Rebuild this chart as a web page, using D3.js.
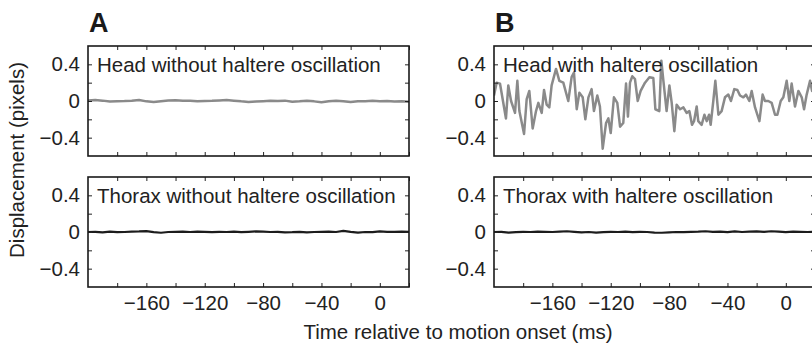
<!DOCTYPE html>
<html>
<head>
<meta charset="utf-8">
<script src="https://cdn.jsdelivr.net/npm/d3@7"></script>
<style>
  html, body { margin: 0; padding: 0; background: #fff; }
  svg { display: block; font-family: "Liberation Sans", Arial, Helvetica, sans-serif; }
</style>
</head>
<body>
<svg id="chart" width="812" height="346"></svg>
<script>
// Time axis (ms relative to motion onset)
const timeDomain = [-200, 20];
const timeTicks = [-180, -160, -140, -120, -100, -80, -60, -40, -20, 0, 20];
const timeLabels = [-160, -120, -80, -40, 0];
// Displacement axis (pixels)
const dispDomain = [-0.6, 0.6];
const dispTicks = [-0.4, -0.2, 0, 0.2, 0.4];
const dispLabels = [-0.4, 0, 0.4];

// Head, no haltere oscillation (time ms, displacement px)
const headNoOscT = [-200, -195, -190, -185, -180, -175, -170, -165, -160, -155, -150, -145, -140, -135, -130, -125, -120, -115, -110, -105, -100, -95, -90, -85, -80, -75, -70, -65, -60, -55, -50, -45, -40, -35, -30, -25, -20, -15, -10, -5, 0, 5, 10, 15, 20];
const headNoOscV = [0.005, 0.01, 0.004, -0.006, -0.002, 0.0, 0.004, 0.012, -0.004, -0.01, -0.002, 0.006, 0.008, 0.002, 0.004, -0.004, 0.0, 0.002, 0.006, 0.01, 0.004, -0.004, -0.01, -0.006, -0.002, 0.002, 0.0, 0.004, -0.008, -0.004, 0.002, -0.004, -0.014, -0.002, 0.002, -0.002, -0.012, -0.004, -0.002, 0.002, -0.004, 0.0, -0.006, -0.004, -0.008];

// Head, with haltere oscillation
const headOscT = [-200.0, -198.2, -195.9, -191.8, -190.2, -188.3, -185.6, -184.0, -182.6, -179.4, -177.6, -175.8, -173.5, -171.2, -169.6, -167.3, -165.7, -163.9, -162.1, -160.5, -157.5, -155.2, -152.5, -149.1, -146.8, -145.2, -143.3, -141.5, -139.2, -137.4, -135.3, -133.1, -131.5, -129.2, -127.4, -125.5, -123.2, -121.6, -120.0, -117.8, -115.5, -113.6, -111.4, -109.5, -108.2, -106.8, -105.2, -103.4, -101.5, -99.5, -96.5, -93.5, -90.8, -89.4, -86.7, -85.3, -83.9, -81.7, -79.8, -78.2, -76.4, -74.8, -72.5, -70.2, -68.0, -66.1, -64.3, -62.9, -61.1, -60.0, -57.7, -55.8, -54.2, -52.6, -51.5, -49.7, -48.3, -46.2, -44.0, -41.7, -39.4, -37.6, -35.3, -33.2, -31.4, -29.1, -27.3, -25.0, -23.4, -21.1, -18.1, -15.9, -14.3, -12.0, -9.7, -7.4, -5.8, -3.5, -1.7, 0.6, 2.4, 4.0, 6.3, 8.6, 10.9, 12.5, 14.3, 16.6, 18.0, 20.0];
const headOscV = [0.06, 0.2, 0.19, -0.19, 0.17, 0.0, -0.13, 0.22, -0.11, -0.36, 0.02, 0.11, -0.3, -0.11, -0.02, -0.13, 0.12, -0.04, -0.07, 0.17, 0.35, 0.22, 0.2, 0.0, 0.26, 0.31, -0.09, 0.09, 0.04, -0.2, 0.04, 0.13, -0.11, 0.06, -0.06, -0.52, -0.24, -0.19, -0.35, 0.04, -0.02, -0.28, -0.24, 0.19, -0.17, 0.2, 0.27, 0.24, 0.0, 0.11, 0.2, 0.26, 0.25, -0.09, -0.11, 0.44, 0.22, -0.11, 0.17, -0.02, -0.33, -0.04, -0.09, -0.07, -0.13, -0.11, -0.26, -0.22, -0.06, -0.22, -0.26, -0.15, -0.22, -0.15, -0.26, 0.0, 0.22, -0.15, -0.11, 0.04, 0.07, 0.0, 0.13, 0.12, 0.06, 0.04, 0.07, 0.0, 0.11, -0.07, -0.22, 0.07, 0.0, 0.0, -0.02, -0.15, -0.15, 0.0, 0.04, 0.22, 0.0, 0.19, -0.06, 0.11, 0.04, -0.09, 0.07, 0.22, 0.11, 0.15];

// Thorax, no haltere oscillation
const thoraxNoOscT = [-200, -195, -190, -185, -180, -175, -170, -165, -160, -155, -150, -145, -140, -135, -130, -125, -120, -115, -110, -105, -100, -95, -90, -85, -80, -75, -70, -65, -60, -55, -50, -45, -40, -35, -30, -25, -20, -15, -10, -5, 0, 5, 10, 15, 20];
const thoraxNoOscV = [0.0, 0.002, -0.004, 0.004, -0.002, 0.0, 0.004, 0.006, 0.01, -0.002, -0.008, 0.0, 0.002, 0.004, 0.0, 0.004, 0.002, -0.002, 0.002, 0.0, 0.004, -0.002, 0.002, 0.006, 0.004, 0.0, 0.002, -0.004, -0.002, 0.002, -0.004, 0.0, 0.002, 0.004, 0.0, 0.012, 0.002, -0.006, 0.0, -0.002, 0.006, 0.002, 0.002, 0.004, 0.002];

// Thorax, with haltere oscillation
const thoraxOscT = [-200, -195, -190, -185, -180, -175, -170, -165, -160, -155, -150, -145, -140, -135, -130, -125, -120, -115, -110, -105, -100, -95, -90, -85, -80, -75, -70, -65, -60, -55, -50, -45, -40, -35, -30, -25, -20, -15, -10, -5, 0, 5, 10, 15, 20];
const thoraxOscV = [0.0, 0.002, -0.006, -0.002, 0.002, 0.0, 0.004, 0.002, 0.0, 0.004, 0.008, 0.002, -0.004, 0.0, -0.006, -0.002, 0.002, 0.0, 0.004, -0.002, 0.002, 0.0, -0.006, -0.008, -0.004, 0.0, -0.002, 0.002, 0.004, 0.008, 0.002, 0.004, -0.002, 0.006, 0.0, 0.004, 0.006, 0.002, 0.008, 0.004, -0.002, 0.004, 0.002, 0.0, 0.002];

const panelLetters = ["A", "B"];
const panelTitles = [
  ["Head without haltere oscillation", "Thorax without haltere oscillation"],
  ["Head with haltere oscillation", "Thorax with haltere oscillation"]
];
const yTitle = "Displacement (pixels)";
const xTitle = "Time relative to motion onset (ms)";

const series = [
  [{ t: headNoOscT, v: headNoOscV, color: "#8a8a8a", w: 2.5 }, { t: thoraxNoOscT, v: thoraxNoOscV, color: "#1c1c1c", w: 2.2 }],
  [{ t: headOscT, v: headOscV, color: "#8a8a8a", w: 2.5 }, { t: thoraxOscT, v: thoraxOscV, color: "#1c1c1c", w: 2.2 }]
];

const svg = d3.select("#chart");
const colX = [88, 494];
const rowY = [46, 177];
const pw = 321, ph = 110;
const FS = 20.5;
const fmt = d3.format("");

panelLetters.forEach((letter, c) => {
  svg.append("text")
    .attr("x", colX[c] + 1).attr("y", 32)
    .attr("font-size", 27).attr("font-weight", "bold").attr("fill", "#1a1a1a")
    .text(letter);

  [0, 1].forEach(r => {
    const g = svg.append("g").attr("transform", `translate(${colX[c]},${rowY[r]})`);
    const x = d3.scaleLinear().domain(timeDomain).range([0, pw]);
    const y = d3.scaleLinear().domain(dispDomain).range([ph, 0]);

    const clipId = `clip-${c}-${r}`;
    g.append("clipPath").attr("id", clipId)
      .append("rect").attr("width", pw).attr("height", ph);

    const s = series[c][r];
    const pts = s.t.map((t, i) => [t, s.v[i]]);
    g.append("path")
      .datum(pts)
      .attr("clip-path", `url(#${clipId})`)
      .attr("fill", "none")
      .attr("stroke", s.color)
      .attr("stroke-width", s.w)
      .attr("stroke-linejoin", "round")
      .attr("d", d3.line().x(d => x(d[0])).y(d => y(d[1])));

    // Bottom axis (inward ticks) with labels on the lower row only
    const xb = d3.axisBottom(x).tickValues(timeTicks).tickSizeInner(-4).tickSizeOuter(0).tickPadding(8)
      .tickFormat(d => (r === 1 && timeLabels.includes(d)) ? fmt(d) : "");
    const xt = d3.axisTop(x).tickValues(timeTicks).tickSizeInner(-4).tickSizeOuter(0).tickFormat("");
    const yl = d3.axisLeft(y).tickValues(dispTicks).tickSizeInner(-4).tickSizeOuter(0).tickPadding(8)
      .tickFormat(d => dispLabels.includes(d) ? fmt(d) : "");
    const yr = d3.axisRight(y).tickValues(dispTicks).tickSizeInner(-4).tickSizeOuter(0).tickFormat("");

    const axes = [
      g.append("g").attr("transform", `translate(0,${ph})`).call(xb),
      g.append("g").call(xt),
      g.append("g").call(yl),
      g.append("g").attr("transform", `translate(${pw},0)`).call(yr)
    ];
    axes.forEach(a => {
      a.select(".domain").remove();
      a.selectAll("line").attr("stroke", "#222").attr("stroke-width", 1);
      a.selectAll("text").attr("font-size", FS).attr("fill", "#222")
        .attr("font-family", "'Liberation Sans', Arial, sans-serif");
    });

    g.append("rect").attr("width", pw).attr("height", ph)
      .attr("fill", "none").attr("stroke", "#1a1a1a").attr("stroke-width", 1.6);

    g.append("text")
      .attr("x", 9).attr("y", 26)
      .attr("font-size", FS).attr("fill", "#222")
      .text(panelTitles[c][r]);
  });
});

svg.append("text")
  .attr("transform", "translate(24,160) rotate(-90)")
  .attr("text-anchor", "middle")
  .attr("font-size", FS).attr("fill", "#222")
  .text(yTitle);

svg.append("text")
  .attr("x", 458).attr("y", 339)
  .attr("text-anchor", "middle")
  .attr("font-size", FS).attr("fill", "#222")
  .text(xTitle);
</script>
</body>
</html>
